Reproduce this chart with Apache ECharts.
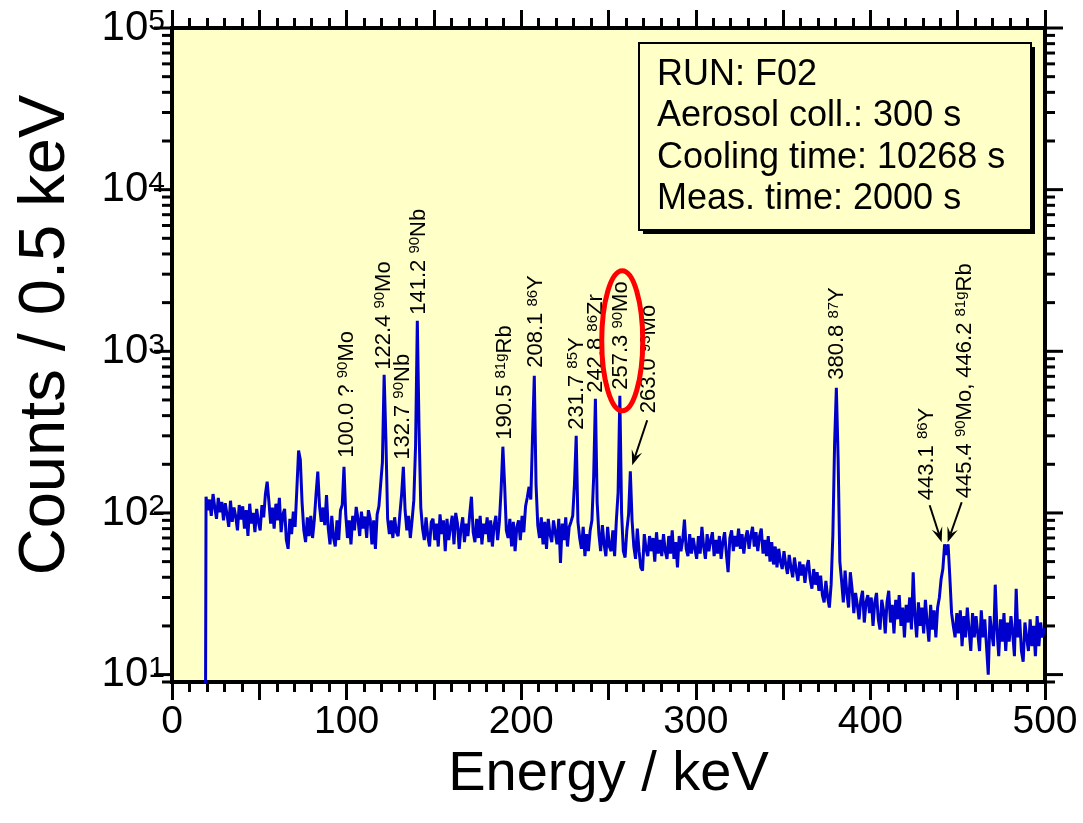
<!DOCTYPE html>
<html>
<head>
<meta charset="utf-8">
<script src="https://cdn.jsdelivr.net/npm/echarts@6/dist/echarts.min.js"></script>
<style>
  html, body { margin: 0; padding: 0; background: #ffffff; }
  #chart { width: 1083px; height: 823px; }
</style>
</head>
<body>
<div id="chart"></div>
<script>
// Gamma spectrum, 1 keV steps starting at 19 keV (counts per 0.5 keV channel)
const energyStart = 19;
const energyStep = 1;
const counts = [
  1,
  126, 104, 121, 96, 131, 108, 92, 124, 101, 117,
  90, 115, 98, 82, 119, 88, 108, 95, 78, 112,
  91, 110, 80, 104, 72, 114, 86, 100, 76, 106,
  88, 78, 112, 94, 131, 156, 118, 86, 108, 80,
  114, 90, 124, 76, 98, 106, 68, 60, 92, 74,
  102, 82, 140, 243, 213, 116, 78, 66, 94, 72,
  96, 70, 90, 131, 180, 110, 88, 108, 84, 129,
  80, 64, 96, 70, 62, 90, 68, 104, 112, 193,
  98, 70, 90, 64, 96, 78, 109, 92, 72, 102,
  80, 95, 70, 104, 92, 64, 90, 60, 98, 110,
  150, 205, 716, 290, 92, 74, 90, 70, 94, 76,
  72, 98, 130, 193, 104, 78, 96, 70, 90, 120,
  260, 1545, 330, 108, 80, 68, 94, 72, 62, 88,
  92, 68, 86, 62, 98, 74, 90, 58, 92, 68,
  82, 96, 64, 100, 86, 60, 80, 94, 66, 86,
  72, 98, 126, 76, 66, 92, 70, 96, 64, 86,
  74, 94, 66, 90, 62, 84, 96, 68, 88, 140,
  257, 150, 78, 70, 92, 62, 88, 58, 82, 90,
  68, 96, 76, 110, 125, 145, 121, 300, 706, 150,
  84, 70, 94, 64, 88, 60, 92, 74, 66, 90,
  76, 64, 92, 49, 86, 68, 94, 62, 82, 88,
  96, 150, 300, 88, 70, 60, 82, 54, 74, 58,
  78, 90, 167, 508, 116, 74, 58, 84, 64, 54,
  82, 62, 58, 78, 54, 90, 134, 531, 100, 58,
  53, 78, 98, 181, 90, 62, 52, 80, 58, 46,
  44, 74, 60, 54, 72, 58, 70, 50, 76, 56,
  68, 54, 74, 58, 52, 72, 56, 78, 52, 66,
  46, 72, 58, 68, 91, 60, 54, 74, 56, 70,
  60, 52, 72, 56, 82, 62, 52, 74, 58, 68,
  76, 54, 68, 56, 72, 52, 66, 76, 56, 43,
  70, 78, 58, 72, 62, 80, 60, 74, 56, 70,
  78, 60, 72, 82, 62, 76, 58, 72, 80, 56,
  68, 54, 72, 50, 66, 48, 62, 46, 60, 50,
  45, 58, 48, 42, 55, 46, 40, 53, 44, 38,
  50, 41, 48, 37, 46, 51, 39, 34, 45, 36,
  43, 33, 41, 31, 28, 38, 30, 26, 36, 73,
  270, 595, 220, 50, 38, 28, 44, 32, 26, 43,
  34, 24, 32, 27, 22, 29, 33, 21, 28, 31,
  24, 30, 20, 28, 32, 22, 19, 29, 25, 18,
  28, 33, 21, 27, 18, 29, 22, 31, 20, 26,
  17, 27, 21, 30, 19, 43, 23, 17, 28, 20,
  26, 18, 29, 21, 16, 27, 19, 25, 17, 26,
  30, 39, 45, 64, 55, 64, 40, 24, 20, 17,
  24, 18, 25, 15, 23, 17, 26, 19, 14, 24,
  17, 23, 18, 14, 25, 17, 22, 15, 10, 23,
  18, 15, 36, 19, 13, 22, 16, 24, 14, 21,
  16, 23, 18, 13, 34, 17, 22, 14, 12, 21,
  17, 14, 22, 15, 20, 13, 23, 15, 21, 17,
  19
];

// Identified lines: energy (keV) and label text ({s|..} = mass number)
const peakEnergies = [100.0, 122.4, 132.7, 141.2, 190.5, 208.1, 231.7, 242.8, 257.3, 263.0, 380.8, 443.1, 445.4];
const peakTexts = [
  '100.0 ? {s|90}Mo', '122.4 {s|90}Mo', '132.7 {s|90}Nb', '141.2 {s|90}Nb',
  '190.5 {s|81g}Rb', '208.1 {s|86}Y', '231.7 {s|85}Y', '242.8 {s|86}Zr',
  '257.3 {s|90}Mo', '263.0 {s|93}Mo', '380.8 {s|87}Y', '443.1 {s|86}Y',
  '445.4 {s|90}Mo, 446.2 {s|81g}Rb'
];

// Measurement conditions
const infoLines = ['RUN: F02', 'Aerosol coll.: 300 s', 'Cooling time: 10268 s', 'Meas. time: 2000 s'];

// Axis ranges and titles
const xRange = [0, 500];
const yRange = [9, 100000];
const xTitle = 'Energy / keV';
const yTitle = 'Counts / 0.5 keV';

const FONT = '"Liberation Sans", Arial, Helvetica, sans-serif';
const BLUE = '#0000cc';
const PLOT_BG = '#ffffc8';

const spectrum = counts.map((c, i) => [energyStart + i * energyStep, c]);

// log-axis tick values (major at decades, minor at 2..9)
const yTickData = [[0, 9, 0]];
for (let d = 1; d <= 4; d++) {
  for (let m = 1; m <= 9; m++) yTickData.push([0, m * Math.pow(10, d), m === 1 ? 1 : 0]);
}
yTickData.push([0, 100000, 1]);

const chart = echarts.init(document.getElementById('chart'), null, { renderer: 'canvas' });

const xAxisCommon = {
  type: 'value', min: xRange[0], max: xRange[1], interval: 50,
  axisLine: { show: false },
  axisTick: { show: true, inside: false, length: 18, lineStyle: { color: '#000', width: 3 } },
  minorTick: { show: true, splitNumber: 5, length: 10, lineStyle: { color: '#000', width: 3 } },
  splitLine: { show: false }, minorSplitLine: { show: false }
};

const option = {
  backgroundColor: '#ffffff',
  animation: false,
  grid: {
    left: 172, right: 38, top: 28, bottom: 141,
    show: true, backgroundColor: PLOT_BG, borderColor: '#000', borderWidth: 4
  },
  xAxis: [
    Object.assign({}, xAxisCommon, {
      position: 'bottom',
      name: xTitle, nameLocation: 'middle', nameGap: 55,
      nameTextStyle: { fontFamily: FONT, fontSize: 56, color: '#000' },
      axisLabel: {
        show: true, margin: 21, fontFamily: FONT, fontSize: 39, color: '#000',
        formatter: v => (v % 100 === 0 ? String(v) : '')
      }
    }),
    Object.assign({}, xAxisCommon, { position: 'top', axisLabel: { show: false } })
  ],
  yAxis: [{
    type: 'log', logBase: 10, min: yRange[0], max: yRange[1],
    axisLine: { show: false }, axisTick: { show: false },
    splitLine: { show: false }, minorTick: { show: false },
    axisLabel: {
      show: true, margin: 7, fontFamily: FONT, fontSize: 42, lineHeight: 42, color: '#000',
      formatter: v => {
        const e = Math.log10(v);
        if (Math.abs(e - Math.round(e)) > 1e-6) return '';
        return '10{sup|' + Math.round(e) + '}';
      },
      rich: { sup: { fontSize: 30, lineHeight: 8, verticalAlign: 'top', fontFamily: FONT, color: '#000' } }
    }
  }],
  series: [
    {
      type: 'line', name: 'spectrum', data: spectrum, step: 'middle',
      showSymbol: false, clip: true, z: 3,
      lineStyle: { color: BLUE, width: 3 }
    },
    {
      // outward ticks on the left and right logarithmic axes
      type: 'custom', name: 'yticks', data: yTickData, clip: false, silent: true, z: 5,
      encode: { x: 0, y: 1 },
      renderItem: (params, api) => {
        const v = api.value(1);
        const len = api.value(2) ? 18 : 10;
        const pl = api.coord([xRange[0], v]);
        const pr = api.coord([xRange[1], v]);
        const st = { stroke: '#000', lineWidth: 3 };
        return {
          type: 'group', children: [
            { type: 'line', shape: { x1: pl[0] - len, y1: pl[1], x2: pl[0], y2: pl[1] }, style: st },
            { type: 'line', shape: { x1: pr[0], y1: pr[1], x2: pr[0] + len, y2: pr[1] }, style: st }
          ]
        };
      }
    }
  ]
};
chart.setOption(option);

// ---- annotations ----
function px(e, c) { return chart.convertToPixel({ seriesIndex: 0 }, [e, c]); }
function peakTop(e) {
  let best = 0;
  spectrum.forEach(p => { if (Math.abs(p[0] - e) <= 1 && p[1] > best) best = p[1]; });
  return best;
}

// label placement relative to the peak top: [dx, dy] of label start, optional arrow tail/tip
const labelLayout = {
  '100.0': { d: [0, -9] }, '122.4': { d: [-2, -5] }, '132.7': { d: [-1, -7] },
  '141.2': { d: [0, -6] }, '190.5': { d: [0, -7] }, '208.1': { d: [1, -8] },
  '231.7': { d: [0, -6] }, '242.8': { d: [0, -6] }, '257.3': { d: [0, -6] },
  '263.0': { d: [18, -58], arrow: [[16, -51], [1, -6]] },
  '380.8': { d: [0, -8] },
  '443.1': { d: [-19, -44], arrow: [[-16, -39], [-4, -2]] },
  '445.4': { d: [15, -46], arrow: [[12, -42], [-2, -2]] }
};

const graphics = [];
function arrowShapes(x1, y1, x2, y2) {
  const a = Math.atan2(y2 - y1, x2 - x1);
  const ux = Math.cos(a), uy = Math.sin(a), nx = -uy, ny = ux;
  const L = 15, W = 5.5;
  const bx = x2 - L * ux, by = y2 - L * uy;
  const kx = x2 - 0.6 * L * ux, ky = y2 - 0.6 * L * uy;
  return [
    { type: 'line', shape: { x1, y1, x2: kx, y2: ky }, style: { stroke: '#000', lineWidth: 2 }, z: 20 },
    { type: 'polygon', shape: { points: [[x2, y2], [bx + W * nx, by + W * ny], [kx, ky], [bx - W * nx, by - W * ny]] },
      style: { fill: '#000' }, z: 20 }
  ];
}

peakEnergies.forEach((e, i) => {
  const key = e.toFixed(1);
  const lay = labelLayout[key];
  const top = px(e, peakTop(e));
  const ax = top[0] + lay.d[0], ay = top[1] + lay.d[1];
  graphics.push({
    type: 'text', x: ax, y: ay, rotation: Math.PI / 2, z: 20,
    style: {
      text: peakTexts[i], fontFamily: FONT, fontSize: 22, fill: '#000',
      align: 'left', verticalAlign: 'middle',
      rich: { s: { fontSize: 15, fontFamily: FONT, fill: '#000', verticalAlign: 'top', lineHeight: 14 } }
    }
  });
  if (lay.arrow) {
    arrowShapes(top[0] + lay.arrow[0][0], top[1] + lay.arrow[0][1],
                top[0] + lay.arrow[1][0], top[1] + lay.arrow[1][1]).forEach(g => graphics.push(g));
  }
  if (key === '257.3') {
    graphics.push({
      type: 'ellipse', z: 21,
      shape: { cx: top[0] + 1, cy: top[1] - 55, rx: 20.5, ry: 70 },
      style: { fill: 'none', stroke: '#ff0000', lineWidth: 5 }
    });
  }
});

// vertical axis title
graphics.push({
  type: 'text', x: 46, y: 335, rotation: Math.PI / 2, z: 10,
  style: { text: yTitle, fontFamily: FONT, fontSize: 65, fill: '#000', align: 'center', verticalAlign: 'middle' }
});

// info box with drop shadow
const box = { x: 639, y: 43, w: 392, h: 187 };
graphics.push({ type: 'rect', z: 30, shape: { x: box.x + 4, y: box.y + 4, width: box.w, height: box.h }, style: { fill: '#000' } });
graphics.push({ type: 'rect', z: 31, shape: { x: box.x, y: box.y, width: box.w, height: box.h }, style: { fill: PLOT_BG, stroke: '#000', lineWidth: 2 } });
infoLines.forEach((t, i) => {
  graphics.push({
    type: 'text', z: 32, x: box.x + 18, y: box.y + 32 + i * 41.5,
    style: { text: t, fontFamily: FONT, fontSize: 36, fill: '#000', align: 'left', verticalAlign: 'middle' }
  });
});

chart.setOption({ graphic: graphics });
</script>
</body>
</html>
